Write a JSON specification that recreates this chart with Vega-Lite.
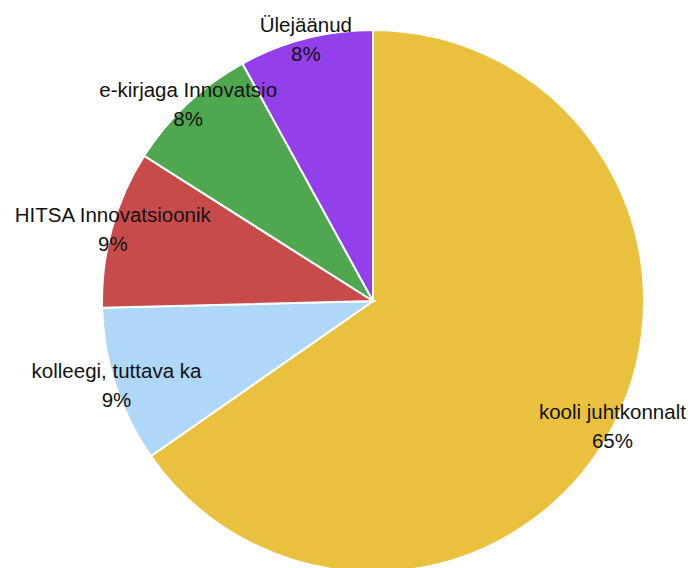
{
  "$schema": "https://vega.github.io/schema/vega-lite/v6.json",
  "autosize": "none",
  "width": 640,
  "height": 534,
  "padding": {"left": 53, "top": 34, "right": 0, "bottom": 0},
  "background": "white",
  "config": {"view": {"stroke": null}},
  "data": {
    "values": [
      {"order": 1, "label": "kooli juhtkonnalt", "pct": "65%", "value": 65.3},
      {"order": 2, "label": "kolleegi, tuttava ka", "pct": "9%", "value": 9.3},
      {"order": 3, "label": "HITSA Innovatsioonik", "pct": "9%", "value": 9.4},
      {"order": 4, "label": "e-kirjaga Innovatsio", "pct": "8%", "value": 8.0},
      {"order": 5, "label": "Ülejäänud", "pct": "8%", "value": 8.0}
    ]
  },
  "encoding": {
    "theta": {"field": "value", "type": "quantitative", "stack": true},
    "order": {"field": "order", "type": "quantitative"}
  },
  "layer": [
    {
      "mark": {"type": "arc", "outerRadius": 271, "stroke": "white", "strokeWidth": 2},
      "encoding": {
        "color": {
          "field": "label",
          "type": "nominal",
          "scale": {
            "domain": ["kooli juhtkonnalt", "kolleegi, tuttava ka", "HITSA Innovatsioonik", "e-kirjaga Innovatsio", "Ülejäänud"],
            "range": ["#EAC13F", "#AFD7F7", "#C84B4B", "#4FA84F", "#9340EA"]
          },
          "legend": null
        }
      }
    },
    {
      "mark": {"type": "text", "radius": 270, "dy": -13, "font": "Liberation Sans", "fontSize": 20.5, "fill": "#111111", "align": "center", "baseline": "middle"},
      "encoding": {"text": {"field": "label", "type": "nominal"}}
    },
    {
      "mark": {"type": "text", "radius": 270, "dy": 16, "font": "Liberation Sans", "fontSize": 20.5, "fill": "#111111", "align": "center", "baseline": "middle"},
      "encoding": {"text": {"field": "pct", "type": "nominal"}}
    }
  ]
}
